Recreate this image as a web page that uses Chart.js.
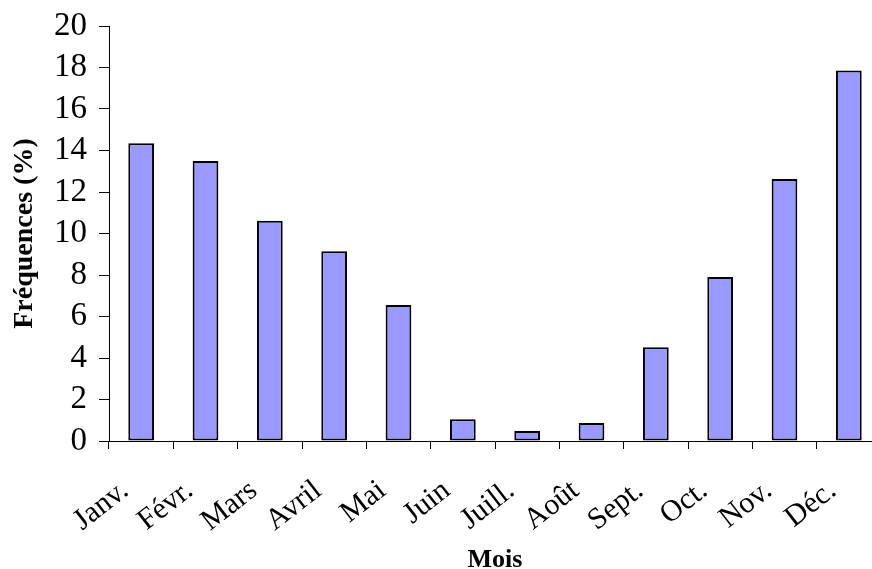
<!DOCTYPE html>
<html>
<head>
<meta charset="utf-8">
<script src="https://cdn.jsdelivr.net/npm/chart.js@4.4.1/dist/chart.umd.min.js"></script>
<style>
  html, body { margin: 0; padding: 0; background: #fff; overflow: hidden; }
  #wrap { position: absolute; left: 0; top: 0; width: 884px; height: 569px; }
</style>
</head>
<body>
<div id="wrap"><canvas id="chart"></canvas></div>
<script>
// months (categories)
var months = ["Janv.", "Févr.", "Mars", "Avril", "Mai", "Juin", "Juill.", "Août", "Sept.", "Oct.", "Nov.", "Déc."];
// frequency per month, in %
var frequences = [14.35, 13.5, 10.62, 9.15, 6.56, 1.05, 0.48, 0.87, 4.52, 7.9, 12.63, 17.85];
// y axis
var yMin = 0, yMax = 20, yStep = 2;

var serif = "'Liberation Serif', 'Times New Roman', serif";

var ctx = document.getElementById("chart").getContext("2d");
new Chart(ctx, {
  type: "bar",
  data: {
    labels: months,
    datasets: [{
      label: "Fréquences",
      data: frequences,
      backgroundColor: "#9999FF",
      borderColor: "#000000",
      borderWidth: 2,
      borderSkipped: false,
      categoryPercentage: 1,
      barPercentage: 0.4
    }]
  },
  options: {
    responsive: true,
    maintainAspectRatio: false,
    animation: false,
    layout: { padding: { top: 26, right: 3, left: 0, bottom: -7 } },
    plugins: {
      legend: { display: false },
      tooltip: { enabled: false }
    },
    scales: {
      x: {
        afterFit: function (scale) {
          // keep the plot box where the original has it
          scale.height = 135;
          scale.paddingLeft = 0;
          scale.paddingRight = 0;
        },
        grid: { drawOnChartArea: false, color: "#000", tickLength: 8, offset: true },
        border: { color: "#000", width: 1 },
        ticks: {
          color: "#000",
          font: { family: serif, size: 30 },
          maxRotation: 38,
          minRotation: 38,
          padding: 24,
          labelOffset: -16
        },
        title: {
          display: true,
          text: "Mois",
          color: "#000",
          font: { family: serif, size: 26, weight: "bold" },
          padding: { top: 0, bottom: 0 }
        }
      },
      y: {
        min: yMin,
        max: yMax,
        afterFit: function (scale) {
          scale.width = 109;
          scale.paddingTop = 0;
          scale.paddingBottom = 0;
        },
        grid: { drawOnChartArea: false, color: "#000", tickLength: 10 },
        border: { color: "#000", width: 1 },
        ticks: {
          stepSize: yStep,
          autoSkip: false,
          color: "#000",
          font: { family: serif, size: 33 },
          padding: 12
        },
        title: {
          display: true,
          text: "Fréquences (%)",
          color: "#000",
          font: { family: serif, size: 28, weight: "bold" },
          padding: { top: 8, bottom: 0 }
        }
      }
    }
  }
});
</script>
</body>
</html>
